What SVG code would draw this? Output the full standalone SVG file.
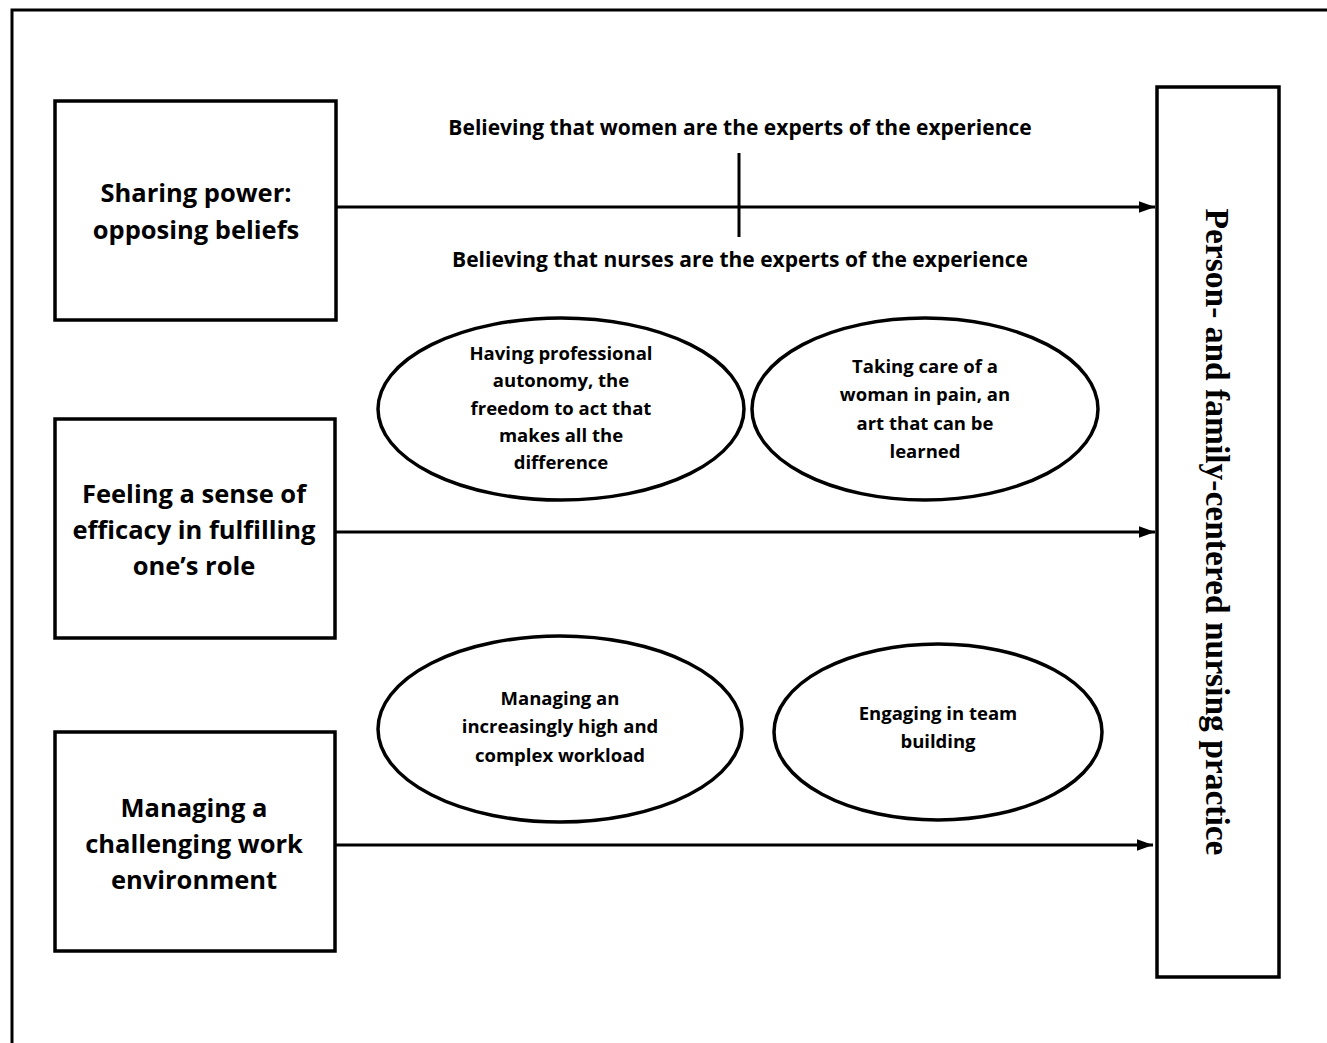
<svg xmlns="http://www.w3.org/2000/svg" width="1327" height="1043" viewBox="0 0 1327 1043">
<style>
.box{fill:#fff;stroke:#000;stroke-width:3.5}
.ell{fill:#fff;stroke:#000;stroke-width:3.5}
.lbl{font-family:"Open Sans",Lato,sans-serif;font-weight:bold;fill:#000;text-anchor:middle}
.big{font-size:25.5px}
.sm{font-size:18.5px}
.mid{font-size:21px}
.conn{stroke:#000;stroke-width:3;fill:none}
.vt{font-family:"Liberation Serif","Times New Roman",serif;font-weight:bold;font-size:33.5px;text-anchor:middle;fill:#000}
</style>
<defs>
<marker id="ah" viewBox="0 0 10 10" refX="10" refY="5" markerWidth="5.5" markerHeight="4" markerUnits="strokeWidth" orient="auto" preserveAspectRatio="none">
<path d="M0,0 L10,5 L0,10 Z" fill="#000"/>
</marker>
</defs>
<rect width="1327" height="1043" fill="#fff"/>
<path d="M12,1043 L12,10 L1327,10" fill="none" stroke="#000" stroke-width="3"/>
<g id="connectors">
<line class="conn" x1="337" y1="207" x2="1155" y2="207" marker-end="url(#ah)"/>
<line class="conn" x1="335" y1="532" x2="1155" y2="532" marker-end="url(#ah)"/>
<line class="conn" x1="335" y1="845" x2="1153" y2="845" marker-end="url(#ah)"/>
<line class="conn" x1="739" y1="153" x2="739" y2="237"/>
</g>
<g id="label-women"><text class="lbl mid" x="740" y="135">Believing that women are the experts of the experience</text></g>
<g id="label-nurses"><text class="lbl mid" x="740" y="267">Believing that nurses are the experts of the experience</text></g>
<g id="node-sharing">
<rect class="box" x="55" y="101" width="281" height="219"/>
<text class="lbl big" x="196" y="202">Sharing power:</text>
<text class="lbl big" x="196" y="239">opposing beliefs</text>
</g>
<g id="node-efficacy">
<rect class="box" x="55" y="419" width="280" height="219"/>
<text class="lbl big" x="194" y="503">Feeling a sense of</text>
<text class="lbl big" x="194" y="539">efficacy in fulfilling</text>
<text class="lbl big" x="194" y="575">one’s role</text>
</g>
<g id="node-environment">
<rect class="box" x="55" y="732" width="280" height="219"/>
<text class="lbl big" x="194" y="817">Managing a</text>
<text class="lbl big" x="194" y="853">challenging work</text>
<text class="lbl big" x="194" y="889">environment</text>
</g>
<g id="node-autonomy">
<ellipse class="ell" cx="561" cy="409" rx="183" ry="91"/>
<text class="lbl sm" x="561" y="360">Having professional</text>
<text class="lbl sm" x="561" y="387">autonomy, the</text>
<text class="lbl sm" x="561" y="415">freedom to act that</text>
<text class="lbl sm" x="561" y="442">makes all the</text>
<text class="lbl sm" x="561" y="469">difference</text>
</g>
<g id="node-pain">
<ellipse class="ell" cx="925" cy="409" rx="173" ry="91"/>
<text class="lbl sm" x="925" y="373">Taking care of a</text>
<text class="lbl sm" x="925" y="401">woman in pain, an</text>
<text class="lbl sm" x="925" y="430">art that can be</text>
<text class="lbl sm" x="925" y="458">learned</text>
</g>
<g id="node-workload">
<ellipse class="ell" cx="560" cy="729" rx="182" ry="93"/>
<text class="lbl sm" x="560" y="705">Managing an</text>
<text class="lbl sm" x="560" y="733">increasingly high and</text>
<text class="lbl sm" x="560" y="762">complex workload</text>
</g>
<g id="node-team">
<ellipse class="ell" cx="938" cy="732" rx="164" ry="88"/>
<text class="lbl sm" x="938" y="720">Engaging in team</text>
<text class="lbl sm" x="938" y="748">building</text>
</g>
<g id="node-practice">
<rect class="box" x="1157" y="87" width="122" height="890"/>
<text class="vt" transform="translate(1206,532) rotate(90)">Person- and family-centered nursing practice</text>
</g>
</svg>
